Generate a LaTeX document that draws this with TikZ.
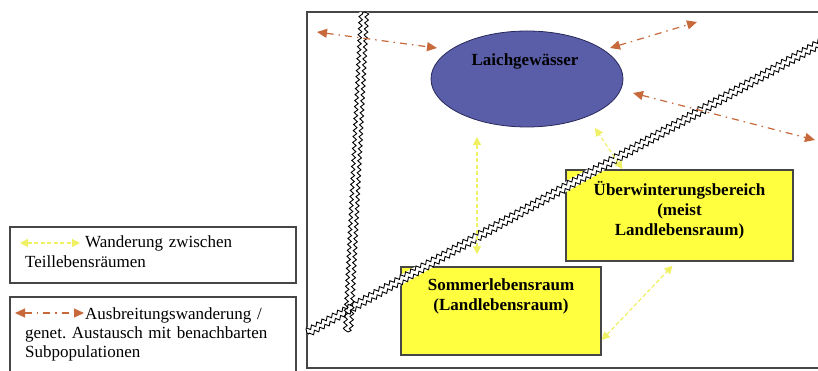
\documentclass[tikz,border=0pt]{standalone}
\usepackage{fontspec}
\setmainfont{Liberation Serif}
\usetikzlibrary{positioning,shapes.geometric,arrows.meta,decorations.pathmorphing}

\definecolor{laichblau}{RGB}{90,94,168}
\definecolor{laichrand}{RGB}{40,40,90}
\definecolor{ausbrfarbe}{RGB}{200,105,60}
\definecolor{wandergelb}{RGB}{240,240,100}
\definecolor{boxgelb}{RGB}{255,255,64}
\definecolor{rahmen}{RGB}{70,70,70}

\tikzset{
  gewaesser/.style={ellipse, draw=laichrand, line width=0.8pt, fill=laichblau,
    minimum width=192pt, minimum height=96pt, inner sep=0pt},
  lebensraum/.style={rectangle, draw=rahmen, line width=1.5pt, fill=boxgelb, inner sep=0pt},
  boxtext/.style={inner sep=0pt, align=center, font=\bfseries\fontsize{17}{20}\selectfont},
  legende/.style={rectangle, draw=rahmen, line width=1.3pt, inner sep=0pt},
  legtext/.style={inner sep=0pt, anchor=north west, align=left, text width=265pt},
  grenze/.style={black, line width=0.9pt, decorate,
    decoration={snake, amplitude=1.8pt, segment length=6pt}},
  wander/.style={wandergelb, line width=1.2pt, dash pattern=on 4pt off 2.5pt,
    {Triangle[length=8pt,width=8pt]}-{Triangle[length=8pt,width=8pt]}},
  ausbr/.style={ausbrfarbe, line width=1.2pt, dash pattern=on 7pt off 5pt on 1.5pt off 5pt,
    {Triangle[length=10pt,width=9pt]}-{Triangle[length=10pt,width=9pt]}}
}

\begin{document}
\frenchspacing
\begin{tikzpicture}[x=1pt,y=-1pt]
\useasboundingbox (0,0) rectangle (818,371);
\fill[white] (0,0) rectangle (818,371);

% rahmen des lebensraums
\draw[rahmen, line width=1.5pt] (307,12) rectangle (840,368);

% teillebensraeume
\node[gewaesser](laich) at (527,79) {};
\node[lebensraum, minimum width=227pt, minimum height=91pt](ueber) at (679.5,215.5) {};
\node[lebensraum, minimum width=200pt, minimum height=88pt](sommer) at (501,311) {};

% grenzen (wellenlinien)
\coordinate (gv1) at (364,12);
\coordinate (gv2) at (348,332);
\coordinate (gd1) at (307,333);
\coordinate (gd2) at (840,32);
\draw[white, line width=9pt] (gv1) -- (gv2) (gd1) -- (gd2);
\foreach \r in {-3pt,3pt}{
  \draw[grenze, decoration={raise=\r}] (gv1) -- (gv2);
  \draw[grenze, decoration={raise=\r}] (gd1) -- (gd2);
}

\node[boxtext](laichtxt) at (525,61) {Laichgewässer};
\node[boxtext](uebertxt)[below = 12pt of ueber.north] {Überwinterungsbereich\\(meist\\Landlebensraum)};
\node[boxtext](sommertxt)[below = 12pt of sommer.north] {Sommerlebensraum\\(Landlebensraum)};

% wanderungen
\draw[wander] ([xshift=-24pt,yshift=12pt]sommer.north) -- ([xshift=-50pt,yshift=-58pt]laich.center);
\draw[wander] ([xshift=-57pt]ueber.north) -- ([xshift=68pt,yshift=-49pt]laich.center);
\draw[wander] ([yshift=-29pt]sommer.east) -- ([xshift=-7pt,yshift=-4pt]ueber.south);

% ausbreitung
\coordinate (aw) at (317,32);
\coordinate (ano) at (697,22);
\coordinate (aso) at (815,140);
\draw[ausbr] (aw) -- ([xshift=-90pt,yshift=31pt]laich.center);
\draw[ausbr] ([xshift=83pt,yshift=31pt]laich.center) -- (ano);
\draw[ausbr] ([xshift=106pt,yshift=-14pt]laich.center) -- (aso);

% legende
\node[legende, minimum width=286pt, minimum height=56pt](leg1) at (153,255) {};
\node[legtext, font=\fontsize{17}{20}\selectfont](leg1txt) at (25,236) {\hspace*{60pt}Wanderung zwischen\\Teillebensräumen};
\coordinate (lw1) at (20,243);
\coordinate (lw2) at (80,243);
\draw[wander] (lw1) -- (lw2);

\node[legende, minimum width=286pt, minimum height=84pt](leg2) at (153,339) {};
\node[legtext, font=\fontsize{17}{19}\selectfont](leg2txt) at (25,308) {\hspace*{60pt}Ausbreitungswanderung /\\genet. Austausch mit benachbarten\\Subpopulationen};
\coordinate (la1) at (15,313);
\coordinate (la2) at (84,313);
\draw[ausbr] (la1) -- (la2);

\end{tikzpicture}
\end{document}
